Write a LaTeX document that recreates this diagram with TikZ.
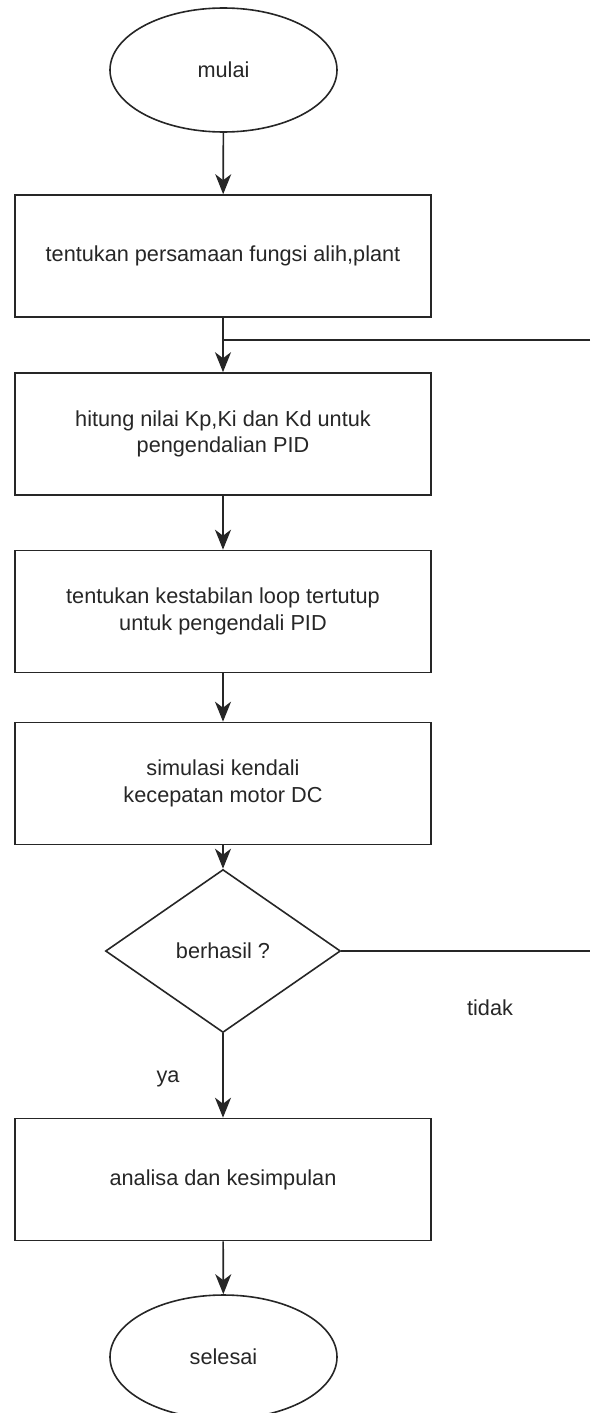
\documentclass[tikz,border=0pt]{standalone}
\usepackage{fontspec}
\setmainfont{Liberation Sans}
\usetikzlibrary{shapes.geometric,arrows.meta}
\begin{document}
\begin{tikzpicture}[x=1pt,y=-1pt,
  every node/.style={font=\fontsize{21.7}{26.5}\selectfont, text=black!85},
  procbox/.style={draw=black!85, line width=1.6pt, rectangle, inner sep=0pt,
    minimum width=416pt, minimum height=122pt, align=center},
  termnode/.style={draw=black!85, line width=1.6pt, ellipse, inner sep=0pt,
    minimum width=227pt, minimum height=124pt},
  decnode/.style={draw=black!85, line width=1.6pt, diamond, inner sep=0pt,
    minimum width=235pt, minimum height=163pt},
  lbl/.style={inner sep=0pt},
  flow/.style={draw=black!85, line width=1.6pt, -{Stealth[length=20pt,width=16pt,inset=6pt]}},
  plain/.style={draw=black!85, line width=1.6pt}
]
\useasboundingbox (0,0) rectangle (590,1413);
\node[termnode] (start) at (223.5,70) {mulai};
\node[procbox] (b1) at (223,256) {tentukan persamaan fungsi alih,plant};
\node[procbox] (b2) at (223,434) {hitung nilai Kp,Ki dan Kd untuk\\pengendalian PID};
\node[procbox] (b3) at (223,611.5) {tentukan kestabilan loop tertutup\\untuk pengendali PID};
\node[procbox] (b4) at (223,783.5) {simulasi kendali\\kecepatan motor DC};
\node[decnode] (dec) at (223,951) {berhasil ?};
\node[procbox] (b5) at (223,1179.5) {analisa dan kesimpulan};
\node[termnode] (stop) at (223.5,1357) {selesai};
\node[lbl] (tidak) at (490,1008) {tidak};
\node[lbl] (ya) at (168,1079) {ya};
\coordinate (join) at (223,340);
\coordinate (rtop) at (590,340);
\coordinate (rdec) at (590,951);

\draw[flow] (start) -- (b1);
\draw[flow] (b1) -- (b2);
\draw[plain] (rtop) -- (join);
\draw[flow] (b2) -- (b3);
\draw[flow] (b3) -- (b4);
\draw[flow] (b4) -- (dec);
\draw[plain] (dec.east) -- (rdec);
\draw[flow] (dec) -- (b5);
\draw[flow] (b5) -- (stop);
\end{tikzpicture}
\end{document}
